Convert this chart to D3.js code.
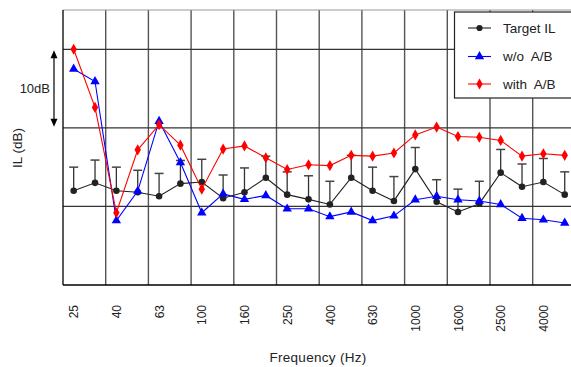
<!DOCTYPE html>
<html><head><meta charset="utf-8">
<script src="https://cdn.jsdelivr.net/npm/d3@7"></script>
<style>html,body{margin:0;padding:0;background:#fff;}svg{display:block;font-family:"Liberation Sans",Arial,sans-serif;}text{white-space:pre;}</style>
</head><body>
<svg id="c" width="571" height="367"></svg>
<script>
const freqs = ["25","31.5","40","50","63","80","100","125","160","200","250","315","400","500","630","800","1000","1250","1600","2000","2500","3150","4000","5000"];
const tickLabels = ["25","40","63","100","160","250","400","630","1000","1600","2500","4000"];
const targetIL = [2.0,3.0,2.0,1.8,1.3,2.9,3.1,1.05,1.8,3.65,1.5,0.9,0.25,3.65,2.0,0.7,4.75,0.6,-0.7,0.35,4.3,2.5,3.1,1.5];
const targetUpper = [5.0,5.9,5.0,4.6,4.2,5.85,6.0,4.0,4.9,6.4,4.4,3.9,3.2,6.5,5.0,3.8,7.5,3.4,2.2,3.2,7.25,5.4,6.1,4.4];
const withoutAB = [17.5,15.9,-1.8,1.95,10.85,5.6,-0.8,1.6,0.9,1.4,-0.3,-0.3,-1.3,-0.7,-1.8,-1.2,0.85,1.3,0.85,0.7,0.25,-1.5,-1.7,-2.1];
const withAB = [20.0,12.6,-0.8,7.2,10.4,7.8,2.2,7.3,7.7,6.2,4.7,5.3,5.2,6.5,6.4,6.8,9.1,10.1,8.9,8.8,8.4,6.4,6.7,6.5];
const yGrid = [0,10,20];
const seriesNames = ["Target IL","w/o  A/B","with  A/B"];

const svg = d3.select("#c");
const L = 63, R = 575.4, T = 10, B = 285;
const x = d3.scaleLinear().domain([-0.5, freqs.length - 0.5]).range([L, R]);
const y = d3.scaleLinear().domain([-10, 25]).range([B, T]);

// vertical grid
const vIdx = d3.range(-0.5, freqs.length, 2).slice(1);
svg.append("g").selectAll("line").data(vIdx).join("line")
  .attr("x1", d => x(d)).attr("x2", d => x(d)).attr("y1", T).attr("y2", B)
  .attr("stroke", "#555").attr("stroke-width", 1.4);
// horizontal grid
svg.append("g").selectAll("line").data(yGrid).join("line")
  .attr("x1", L).attr("x2", 571).attr("y1", d => y(d)).attr("y2", d => y(d))
  .attr("stroke", "#333").attr("stroke-width", 1.3);
// frame
svg.append("line").attr("x1", L).attr("x2", 571).attr("y1", T).attr("y2", T).attr("stroke", "#999").attr("stroke-width", 1.2);
svg.append("line").attr("x1", L).attr("x2", 571).attr("y1", B).attr("y2", B).attr("stroke", "#000").attr("stroke-width", 1.3);
svg.append("line").attr("x1", L).attr("x2", L).attr("y1", T).attr("y2", B).attr("stroke", "#000").attr("stroke-width", 1.3);

// x tick labels
const xAxis = d3.axisBottom(x).tickValues(d3.range(0, freqs.length, 2)).tickFormat((d, i) => tickLabels[i]).tickSize(0);
const gx = svg.append("g").attr("transform", `translate(0,${B})`).call(xAxis);
gx.select(".domain").remove();
gx.selectAll("text").attr("x", 0).attr("y", 0)
  .attr("transform", "translate(0,20) rotate(-90)").attr("text-anchor", "end").attr("dy", "0.35em")
  .attr("font-size", 12).attr("fill", "#222").style("font-family", "'Liberation Sans',Arial,sans-serif");

// error bars
const eb = svg.append("g");
freqs.forEach((f, i) => {
  eb.append("line").attr("x1", x(i)).attr("x2", x(i)).attr("y1", y(targetIL[i])).attr("y2", y(targetUpper[i])).attr("stroke", "#333").attr("stroke-width", 1.3);
  eb.append("line").attr("x1", x(i) - 4.5).attr("x2", x(i) + 4.5).attr("y1", y(targetUpper[i])).attr("y2", y(targetUpper[i])).attr("stroke", "#444").attr("stroke-width", 1.5);
});

const line = d3.line().x((d, i) => x(i)).y(d => y(d));
function drawSeries(vals, color, sym, size) {
  svg.append("path").datum(vals).attr("d", line).attr("fill", "none").attr("stroke", color).attr("stroke-width", 1.1);
  svg.append("g").selectAll("path").data(vals).join("path")
    .attr("transform", (d, i) => `translate(${x(i)},${y(d)})`)
    .attr("d", d3.symbol(sym, size)).attr("fill", color);
}
drawSeries(targetIL, "#222", d3.symbolCircle, 34);
drawSeries(withoutAB, "#0000ff", d3.symbolTriangle, 38);
drawSeries(withAB, "#ff0000", d3.symbolDiamond, 36);

// legend
const lg = svg.append("g");
lg.append("rect").attr("x", 454.5).attr("y", 12).attr("width", 130).attr("height", 86).attr("fill", "#fff").attr("stroke", "#222").attr("stroke-width", 1.2);
const lcol = ["#222", "#0000ff", "#ff0000"];
const lsym = [d3.symbolCircle, d3.symbolTriangle, d3.symbolDiamond];
const lsz = [30, 38, 34];
const ly = [28, 56.5, 84];
seriesNames.forEach((n, k) => {
  lg.append("line").attr("x1", 468).attr("x2", 491).attr("y1", ly[k]).attr("y2", ly[k]).attr("stroke", lcol[k]).attr("stroke-width", 1.1);
  lg.append("path").attr("transform", `translate(479.5,${ly[k]})`).attr("d", d3.symbol(lsym[k], lsz[k])).attr("fill", lcol[k]);
  lg.append("text").attr("x", 503).attr("y", ly[k]).attr("dy", "0.35em").attr("font-size", 13.5).attr("fill", "#222").attr("xml:space", "preserve").text(n);
});

// y label
svg.append("text").attr("transform", "translate(22,148) rotate(-90)").attr("text-anchor", "middle").attr("font-size", 13.5).attr("fill", "#222").text("IL (dB)");
// 10dB scale arrow
svg.append("text").attr("x", 50).attr("y", 88).attr("dy", "0.35em").attr("text-anchor", "end").attr("font-size", 13).attr("fill", "#222").text("10dB");
const ax = 54;
svg.append("line").attr("x1", ax).attr("x2", ax).attr("y1", y(20) + 6).attr("y2", y(10) - 6).attr("stroke", "#000").attr("stroke-width", 1.2);
svg.append("path").attr("d", `M${ax},${y(20) + 1}L${ax - 3.5},${y(20) + 9}L${ax + 3.5},${y(20) + 9}Z`).attr("fill", "#000");
svg.append("path").attr("d", `M${ax},${y(10) - 1}L${ax - 3.5},${y(10) - 9}L${ax + 3.5},${y(10) - 9}Z`).attr("fill", "#000");

// x label
svg.append("text").attr("x", 318).attr("y", 357).attr("dy", "0.35em").attr("text-anchor", "middle").attr("font-size", 13.5).attr("letter-spacing", 0.3).attr("fill", "#222").text("Frequency (Hz)");
</script>
</body></html>
